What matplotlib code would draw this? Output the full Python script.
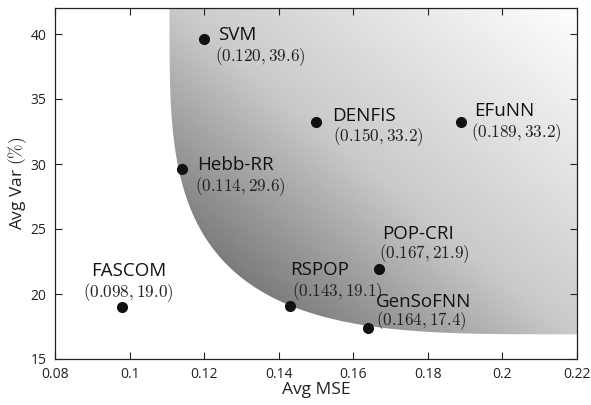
import numpy as np
import matplotlib
matplotlib.use("Agg")
import matplotlib.pyplot as plt
from matplotlib.patches import Polygon

plt.rcParams['font.family'] = ['Open Sans', 'DejaVu Sans']
plt.rcParams['mathtext.fontset'] = 'cm'

# ---- data ----
methods = ["SVM", "Hebb-RR", "DENFIS", "EFuNN", "FASCOM", "RSPOP", "POP-CRI", "GenSoFNN"]
avg_mse = [0.120, 0.114, 0.150, 0.189, 0.098, 0.143, 0.167, 0.164]
avg_var = [39.6, 29.6, 33.2, 33.2, 19.0, 19.1, 21.9, 17.4]
coord_labels = ["(0.120, 39.6)", "(0.114, 29.6)", "(0.150, 33.2)", "(0.189, 33.2)",
                "(0.098, 19.0)", "(0.143, 19.1)", "(0.167, 21.9)", "(0.164, 17.4)"]
x_ticks = [0.08, 0.1, 0.12, 0.14, 0.16, 0.18, 0.2, 0.22]
x_ticklabels = ["0.08", "0.1", "0.12", "0.14", "0.16", "0.18", "0.2", "0.22"]
y_ticks = [15, 20, 25, 30, 35, 40]

# label placement (offsets in pixels): name (dx, dy, ha), coords (dx, dy, ha)
name_off = [(14, -1, 'left'), (15, -1, 'left'), (16, 1, 'left'), (13, 6, 'left'),
            (7, 31, 'center'), (0, 31, 'left'), (3, 30, 'left'), (8, 21, 'left')]
coord_off = [(11, -17, 'left'), (13, -17, 'left'), (17, -14, 'left'), (10, -10, 'left'),
             (6, 14, 'center'), (2, 14, 'left'), (0, 16, 'left'), (8, 7, 'left')]

xlim = (0.08, 0.22)
ylim = (15, 42)

fig = plt.figure(figsize=(5.91, 4.05), dpi=100)
ax = fig.add_axes([55/591, 1-359/405, (577-55)/591, (359-8)/405])
ax.set_xlim(*xlim)
ax.set_ylim(*ylim)

# ---- shaded region (superellipse quadrant with diagonal gradient) ----
cx, cy = 0.22, 42.0
sx, sy = 0.1093, 25.1
n_exp = 3.6
t = np.linspace(0, np.pi/2, 400)
curve_x = cx - sx * np.cos(t) ** (2/n_exp)
curve_y = cy - sy * np.sin(t) ** (2/n_exp)
poly_pts = np.column_stack([np.r_[curve_x, cx + 0.01, cx + 0.01],
                            np.r_[curve_y, cy - sy, cy + 1]])
poly_pts = np.vstack([poly_pts, [[curve_x[0], cy + 1]]])
clip = Polygon(poly_pts, closed=True, transform=ax.transData, facecolor='none', edgecolor='none')
ax.add_patch(clip)

W, H = 522.0, 351.0
gx = np.linspace(0, 1, 600)
gy = np.linspace(0, 1, 420)
GX, GY = np.meshgrid(gx, gy)
proj = 0.632 * GX * W + 0.775 * GY * H
vals = np.interp(proj, [120, 154, 179, 347, 602], [0.42, 0.44, 0.48, 0.79, 0.995])
img = ax.imshow(vals, extent=[xlim[0], xlim[1], ylim[0], ylim[1]], origin='lower',
                cmap='gray', vmin=0, vmax=1, aspect='auto', interpolation='bilinear', zorder=0)
img.set_clip_path(clip)

# ---- points ----
ax.plot(avg_mse, avg_var, 'o', color='#111111', markersize=7, zorder=3)

for i in range(len(methods)):
    dx, dy, ha = name_off[i]
    ax.annotate(methods[i], (avg_mse[i], avg_var[i]), xytext=(dx, dy),
                textcoords='offset pixels', ha=ha, va='baseline', fontsize=13.5,
                color='#111111', zorder=4)
    dx, dy, ha = coord_off[i]
    ax.annotate('$' + coord_labels[i] + '$', (avg_mse[i], avg_var[i]), xytext=(dx, dy),
                textcoords='offset pixels', ha=ha, va='center', fontsize=12.3,
                color='#222222', zorder=4)

ax.set_xticks(x_ticks)
ax.set_xticklabels(x_ticklabels)
ax.set_yticks(y_ticks)
ax.tick_params(direction='in', top=True, right=True, length=5, width=0.8,
               labelsize=10, pad=6, colors='#222222')
for s in ax.spines.values():
    s.set_linewidth(0.9)
    s.set_color('#222222')

ax.set_xlabel('Avg MSE', fontsize=12.5, labelpad=0, color='#222222')
ax.set_ylabel('Avg Var $(\\%)$', fontsize=12.5, labelpad=1, color='#222222')

fig.savefig('out.png', dpi=100)
